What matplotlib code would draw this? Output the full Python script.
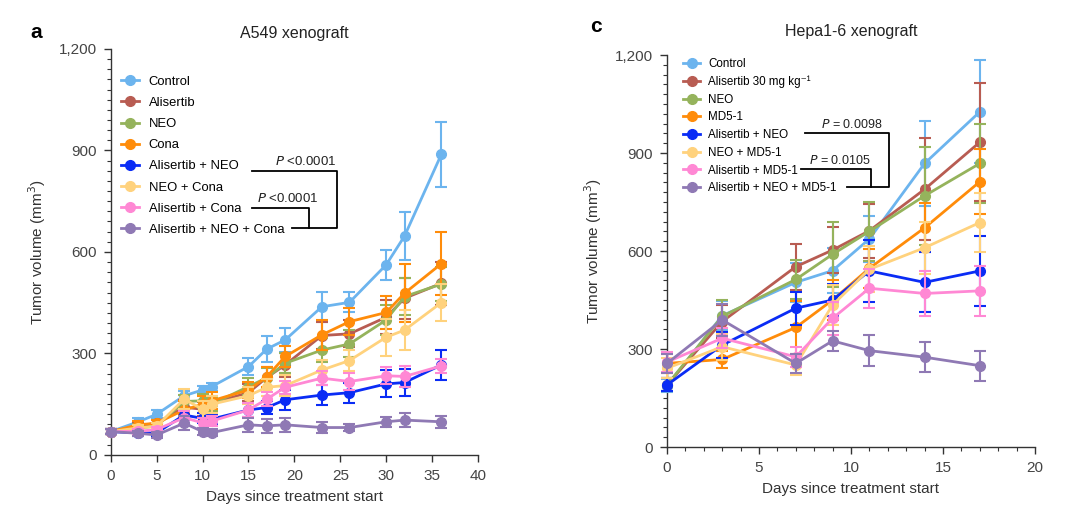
import matplotlib
matplotlib.use("Agg")
from matplotlib import pyplot as plt
from matplotlib.ticker import MultipleLocator, FuncFormatter
from matplotlib.lines import Line2D
import numpy as np

plt.rcParams['font.family'] = ['Liberation Sans', 'DejaVu Sans']

# ---- panel a : A549 xenograft ----
days_a = [0, 3, 5, 8, 10, 11, 15, 17, 19, 23, 26, 30, 32, 36]
labels_a = ['Control', 'Alisertib', 'NEO', 'Cona', 'Alisertib + NEO',
            'NEO + Cona', 'Alisertib + Cona', 'Alisertib + NEO + Cona']
control_a = [69, 98, 120, 175, 192, 202, 261, 313, 340, 438, 451, 562, 647, 888]
alisertib_a = [69, 85, 94, 141, 135, 153, 184, 229, 266, 353, 358, 407, 463, 507]
neo_a = [69, 80, 85, 158, 160, 150, 202, 228, 271, 310, 328, 399, 468, 505]
cona_a = [69, 89, 94, 133, 150, 160, 192, 231, 291, 355, 394, 421, 478, 565]
ali_neo_a = [69, 65, 65, 118, 108, 106, 133, 140, 163, 177, 184, 210, 214, 266]
neo_cona_a = [69, 80, 85, 165, 135, 150, 175, 200, 205, 251, 279, 348, 369, 450]
ali_cona_a = [69, 70, 75, 110, 95, 100, 133, 165, 200, 227, 217, 234, 232, 263]
triple_a = [69, 64, 59, 94, 69, 66, 89, 86, 89, 81, 81, 98, 103, 98]
err_a = [
    [8, 10, 12, 15, 12, 12, 25, 38, 35, 45, 30, 44, 72, 95],
    [8, 10, 10, 20, 20, 20, 25, 30, 35, 40, 40, 50, 60, 64],
    [8, 10, 10, 20, 20, 20, 25, 30, 30, 35, 40, 45, 55, 50],
    [8, 10, 10, 25, 25, 25, 25, 30, 30, 45, 40, 50, 85, 93],
    [8, 8, 8, 15, 15, 15, 20, 20, 30, 30, 30, 40, 40, 45],
    [8, 8, 8, 30, 25, 25, 25, 25, 30, 30, 30, 55, 60, 55],
    [8, 8, 8, 20, 15, 15, 20, 20, 20, 20, 25, 25, 30, 20],
    [8, 8, 8, 20, 10, 10, 20, 20, 20, 15, 10, 15, 20, 18],
]
series_a = [control_a, alisertib_a, neo_a, cona_a, ali_neo_a, neo_cona_a, ali_cona_a, triple_a]

# ---- panel c : Hepa1-6 xenograft ----
days_c = [0, 3, 7, 9, 11, 14, 17]
labels_c = ['Control', 'Alisertib 30 mg kg\u207b\u00b9', 'NEO', 'MD5-1', 'Alisertib + NEO',
            'NEO + MD5-1', 'Alisertib + MD5-1', 'Alisertib + NEO + MD5-1']
control_c = [187, 402, 504, 540, 637, 868, 1026]
alisertib_c = [190, 384, 552, 603, 662, 789, 933]
neo_c = [190, 400, 513, 590, 660, 769, 868]
md5_c = [256, 268, 366, 450, 547, 671, 812]
ali_neo_c = [190, 312, 425, 450, 539, 504, 539]
neo_md5_c = [241, 307, 251, 435, 544, 610, 687]
ali_md5_c = [260, 333, 276, 394, 486, 470, 478]
triple_c = [256, 389, 256, 325, 295, 275, 249]
err_c = [
    [20, 45, 60, 70, 70, 130, 158],
    [20, 50, 70, 70, 82, 156, 180],
    [20, 50, 60, 100, 90, 150, 120],
    [30, 25, 80, 60, 60, 75, 100],
    [20, 40, 50, 50, 96, 92, 108],
    [30, 40, 30, 60, 70, 80, 90],
    [30, 30, 30, 50, 60, 70, 76],
    [30, 50, 30, 30, 48, 45, 46],
]
series_c = [control_c, alisertib_c, neo_c, md5_c, ali_neo_c, neo_md5_c, ali_md5_c, triple_c]

colors = ['#6cb4ee', '#b85c52', '#95b35c', '#ff8c0a', '#0a2cf5', '#ffd27d', '#ff88d4', '#8f79b4']
axis_col = '#333333'
tick_col = '#444444'


def style_axes(ax, xmax, xminor):
    for s in ['top', 'right']:
        ax.spines[s].set_visible(False)
    for s in ['left', 'bottom']:
        ax.spines[s].set_color(axis_col)
        ax.spines[s].set_linewidth(1.0)
    ax.set_xlim(0, xmax)
    ax.set_ylim(0, 1200)
    ax.yaxis.set_major_locator(MultipleLocator(300))
    ax.yaxis.set_minor_locator(MultipleLocator(30))
    ax.xaxis.set_major_locator(MultipleLocator(5))
    if xminor:
        ax.xaxis.set_minor_locator(MultipleLocator(1))
    ax.yaxis.set_major_formatter(FuncFormatter(lambda v, p: f'{int(v):,}'))
    ax.tick_params(which='major', length=5, width=1, color=axis_col, labelcolor=tick_col,
                   labelsize=11, pad=5)
    ax.tick_params(which='minor', length=3, width=0.8, color=axis_col)
    ax.set_xlabel('Days since treatment start', fontsize=11, color='#333333', labelpad=5)
    ax.set_ylabel('Tumor volume (mm$^3$)', fontsize=11, color='#333333', labelpad=8)


def plot_panel(ax, days, series, errs):
    for i, (vals, err) in enumerate(zip(series, errs)):
        ax.errorbar(days, vals, yerr=err, color=colors[i], marker='o', markersize=7,
                    linewidth=2, elinewidth=1.5, capsize=4, capthick=1.5,
                    clip_on=False, zorder=3 + i)


def legend_handles():
    return [Line2D([], [], color=c, marker='o', markersize=7, linewidth=2) for c in colors]


def bracket(ax, pts, txt, tx, ty, fs):
    xs, ys = zip(*pts)
    ax.plot(xs, ys, color='black', linewidth=1.3, clip_on=False, zorder=20)
    ax.text(tx, ty, txt, ha='right', va='bottom', fontsize=fs, color='#222222', zorder=20)


fig = plt.figure(figsize=(10.8, 5.29), dpi=100)
ax_a = fig.add_axes([0.1025, 0.14, 0.3401, 0.7675])
ax_c = fig.add_axes([0.6176, 0.155, 0.3407, 0.741])

# panel a
plot_panel(ax_a, days_a, series_a, err_a)
style_axes(ax_a, 40, False)
ax_a.set_title('A549 xenograft', fontsize=11.5, color='#222222', pad=8)
ax_a.legend(legend_handles(), labels_a, loc='upper left', bbox_to_anchor=(0.013, 0.947),
            frameon=False, fontsize=9.4, handlelength=1.43, handletextpad=0.7,
            labelspacing=0.69, borderaxespad=0)
bracket(ax_a, [(15.4, 840), (24.6, 840), (24.6, 672), (19.7, 672)], '$P$ <0.0001', 24.6, 848, 9.5)
bracket(ax_a, [(15.4, 731), (21.6, 731), (21.6, 672)], '$P$ <0.0001', 22.6, 739, 9.5)

# panel c
plot_panel(ax_c, days_c, series_c, err_c)
style_axes(ax_c, 20, True)
ax_c.set_title('Hepa1-6 xenograft', fontsize=11.5, color='#222222', pad=14)
ax_c.legend(legend_handles(), labels_c, loc='upper left', bbox_to_anchor=(0.031, 1.005),
            frameon=False, fontsize=8.4, handlelength=1.45, handletextpad=0.7,
            labelspacing=0.49, borderaxespad=0)
bracket(ax_c, [(7.5, 960), (12.08, 960), (12.08, 797), (9.78, 797)], '$P$ = 0.0098', 11.69, 968, 9)
bracket(ax_c, [(7.3, 850), (11.1, 850), (11.1, 797)], '$P$ = 0.0105', 11.05, 857, 9)

fig.text(30 / 1080, 1 - 33 / 529, 'a', fontsize=15, fontweight='bold', va='center')
fig.text(590 / 1080, 1 - 27 / 529, 'c', fontsize=15, fontweight='bold', va='center')

fig.savefig('out.png', dpi=100)
